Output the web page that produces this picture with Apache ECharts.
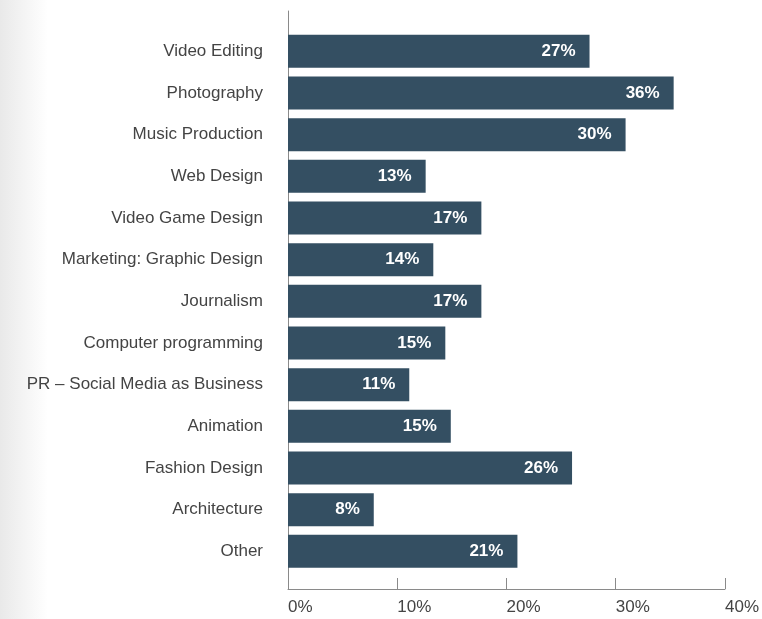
<!DOCTYPE html>
<html>
<head>
<meta charset="utf-8">
<style>
  html, body { margin: 0; padding: 0; width: 762px; height: 619px; overflow: hidden;
    background: linear-gradient(to right, #e9e9e9 0px, #ffffff 48px); }
  #chart { width: 762px; height: 619px; }
</style>
<script src="https://cdn.jsdelivr.net/npm/echarts@6/dist/echarts.min.js"></script>
</head>
<body>
<div id="chart"></div>
<script>
const categories = [
  "Video Editing", "Photography", "Music Production", "Web Design",
  "Video Game Design", "Marketing: Graphic Design", "Journalism",
  "Computer programming", "PR \u2013 Social Media as Business", "Animation",
  "Fashion Design", "Architecture", "Other"
];
const values = [27.6, 35.3, 30.9, 12.6, 17.7, 13.3, 17.7, 14.4, 11.1, 14.9, 26.0, 7.85, 21.0];
const valueLabels = ["27%", "36%", "30%", "13%", "17%", "14%", "17%", "15%", "11%", "15%", "26%", "8%", "21%"];
const xTicks = [0, 10, 20, 30, 40];

const FONT = "'Liberation Sans', Arial, Helvetica, sans-serif";
const chart = echarts.init(document.getElementById('chart'), null, { renderer: 'canvas' });

chart.setOption({
  backgroundColor: 'transparent',
  animation: false,
  textStyle: { fontFamily: FONT },
  grid: [
    { left: 288, right: 37, top: 11, bottom: 30, containLabel: false },
    { left: 288, right: 37, top: 30.5, bottom: 46.8, containLabel: false }
  ],
  xAxis: [
    {
      gridIndex: 0, type: 'value',
      min: xTicks[0], max: xTicks[xTicks.length - 1], interval: 10,
      axisLine: { show: true, lineStyle: { color: '#8a8a8a', width: 1 } },
      axisTick: { show: true, inside: true, length: 11, lineStyle: { color: '#8a8a8a' } },
      splitLine: { show: false },
      axisLabel: {
        show: true, margin: 10, color: '#444', fontSize: 17, fontFamily: FONT,
        align: 'left', formatter: v => v + '%'
      }
    },
    {
      gridIndex: 1, type: 'value', min: xTicks[0], max: xTicks[xTicks.length - 1],
      show: false
    }
  ],
  yAxis: [
    {
      gridIndex: 0, type: 'value', min: 0, max: 1,
      axisLine: { show: true, lineStyle: { color: '#8a8a8a', width: 1 } },
      axisTick: { show: false }, axisLabel: { show: false }, splitLine: { show: false }
    },
    {
      gridIndex: 1, type: 'category', data: categories, inverse: true,
      axisLine: { show: false }, axisTick: { show: false }, splitLine: { show: false },
      axisLabel: { margin: 25, color: '#444', fontSize: 17, fontFamily: FONT }
    }
  ],
  series: [{
    type: 'bar',
    xAxisIndex: 1, yAxisIndex: 1,
    data: values,
    barWidth: 33,
    itemStyle: { color: '#344f62' },
    label: {
      show: true, position: 'insideRight', distance: 14,
      color: '#ffffff', fontWeight: 'bold', fontSize: 17, fontFamily: FONT,
      formatter: p => valueLabels[p.dataIndex]
    }
  }]
});
</script>
</body>
</html>
